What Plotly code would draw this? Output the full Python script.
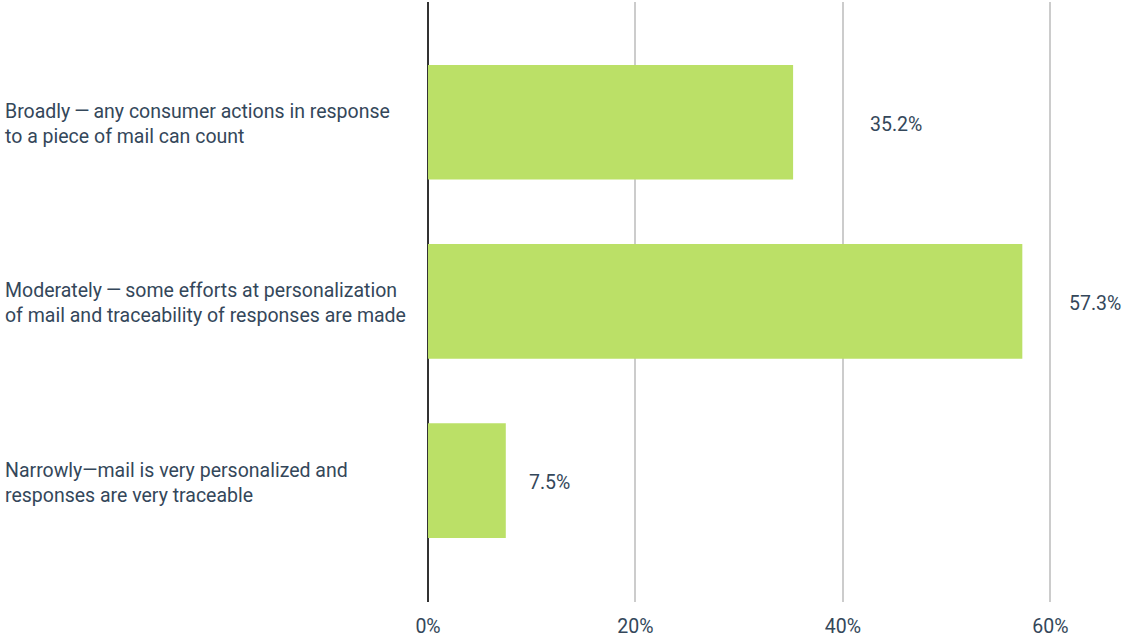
import plotly.graph_objects as go

# Survey answers and share of respondents (%)
categories = [
    "Broadly\u2009\u2014\u2009any consumer actions in response<br>to a piece of mail can count",
    "Moderately\u2009\u2014\u2009some efforts at personalization<br>of mail and traceability of responses are made",
    "Narrowly\u2014mail is very personalized and<br>responses are very traceable",
]
values = [35.2, 57.3, 7.5]
tick_values = [0, 20, 40, 60]
tick_labels = ["0%", "20%", "40%", "60%"]

# pixel shift of each value label to the right of its bar end
label_shift_px = [103, 73, 44]

TEXT = "#34475a"
BAR = "#bbe067"
FONT = "Roboto"
SIZE = 19.5

W, H = 1125, 639
M_L, M_R, M_T, M_B = 428, 0, 2, 37
plot_w = W - M_L - M_R

positions = list(range(len(categories)))

fig = go.Figure()
fig.add_trace(go.Bar(
    x=values,
    y=positions,
    orientation="h",
    width=0.64,
    marker=dict(color=BAR, line=dict(width=0)),
    hoverinfo="skip",
))

annotations = []
for pos, val, shift in zip(positions, values, label_shift_px):
    annotations.append(dict(
        x=val, y=pos, xref="x", yref="y",
        text=f"{val:.1f}%", showarrow=False,
        xanchor="center", yanchor="middle", xshift=shift, yshift=-2,
        font=dict(family=FONT, size=SIZE, color=TEXT),
    ))
for pos, cat in zip(positions, categories):
    annotations.append(dict(
        x=(3 - M_L) / plot_w, y=pos, xref="paper", yref="y",
        text=cat, showarrow=False, align="left",
        xanchor="left", yanchor="middle", yshift=-2,
        font=dict(family=FONT, size=SIZE, color=TEXT),
    ))

fig.update_layout(
    width=W, height=H,
    margin=dict(l=M_L, r=M_R, t=M_T, b=M_B),
    paper_bgcolor="white", plot_bgcolor="white",
    showlegend=False,
    annotations=annotations,
    font=dict(family=FONT, size=SIZE, color=TEXT),
    xaxis=dict(
        range=[0, 67.2],
        tickvals=tick_values, ticktext=tick_labels,
        showgrid=True, gridcolor="#cccccc", gridwidth=1.5,
        zeroline=True, zerolinecolor="#333333", zerolinewidth=2,
        showline=False,
        ticks="outside", ticklen=7, tickcolor="rgba(0,0,0,0)",
        tickfont=dict(family=FONT, size=SIZE, color=TEXT),
        fixedrange=True,
    ),
    yaxis=dict(
        range=[2.677, -0.671],
        showticklabels=False, showgrid=False, zeroline=False,
        fixedrange=True,
    ),
)

fig.write_html("out.html", config=dict(displayModeBar=False))
